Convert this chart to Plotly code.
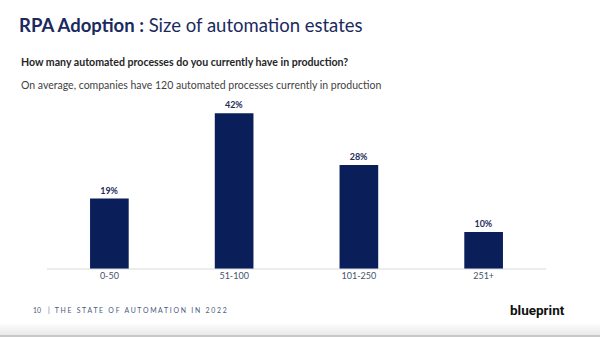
import plotly.graph_objects as go

categories = ["0-50", "51-100", "101-250", "251+"]
values = [19, 42, 28, 10]
labels = ["19%", "42%", "28%", "10%"]

NAVY = "#0a1f5a"
FONT = "Lato"

fig = go.Figure()
fig.add_trace(go.Bar(
    x=categories, y=values, text=labels, textposition="outside",
    textfont=dict(family=FONT, size=9, color="#1f2d5c", weight="bold"),
    marker=dict(color=NAVY, line=dict(width=0)),
    cliponaxis=False, hoverinfo="skip"
))

W, H = 600, 337
x0, x1 = 47, 546
ybase, ytop = 269, 83.5
fig.update_layout(
    width=W, height=H, autosize=False,
    margin=dict(l=0, r=0, t=0, b=0),
    paper_bgcolor="white", plot_bgcolor="white",
    showlegend=False, bargap=0.69,
    xaxis=dict(domain=[x0 / W, x1 / W], showgrid=False, zeroline=False,
               showline=False, ticks="",
               tickfont=dict(family=FONT, size=9, color="#44546a")),
    yaxis=dict(domain=[1 - ybase / H, 1 - ytop / H], range=[0, 50],
               visible=False, showgrid=False, zeroline=False),
)

# baseline
fig.add_shape(type="line", xref="paper", yref="paper",
              x0=x0 / W, x1=x1 / W, y0=1 - ybase / H, y1=1 - ybase / H,
              line=dict(color="#d9d9d9", width=1))

# bottom gradient strip
n = 14
for i in range(n):
    g = int(255 - (i / (n - 1)) * 22)
    ya = 322 + i
    fig.add_shape(type="rect", xref="paper", yref="paper",
                  x0=0, x1=1, y0=1 - (ya + 1) / H, y1=1 - ya / H,
                  line=dict(width=0), fillcolor=f"rgb({g},{g},{g})", layer="below")
fig.add_shape(type="rect", xref="paper", yref="paper", x0=0, x1=1,
              y0=0, y1=1 - 335 / H, line=dict(width=0),
              fillcolor="#c8c8c8", layer="below")

def ann(text, x, y, size, color, weight="normal", anchor="left", family=FONT):
    fig.add_annotation(text=text, xref="paper", yref="paper",
                       x=x / W, y=1 - y / H, xanchor=anchor, yanchor="middle",
                       showarrow=False,
                       font=dict(family=family, size=size, color=color, weight=weight))

ann("<b>RPA Adoption :</b> Size of automation estates", 17, 25, 18.5, "#1b2a5e")
ann("<b>How many automated processes do you currently have in production?</b>", 19, 62, 10.6, "#262626")
ann("On average, companies have 120 automated processes currently in production", 19, 85, 10.5, "#3f3f3f")
ann("10    |   T H E   S T A T E   O F   A U T O M A T I O N   I N   2 0 2 2", 31, 310, 6.9, "#4a5a80")
ann("<b>blueprint</b>", 567, 310, 13.5, "#111111", anchor="right", family="Roboto")

fig.write_html("out.html")
